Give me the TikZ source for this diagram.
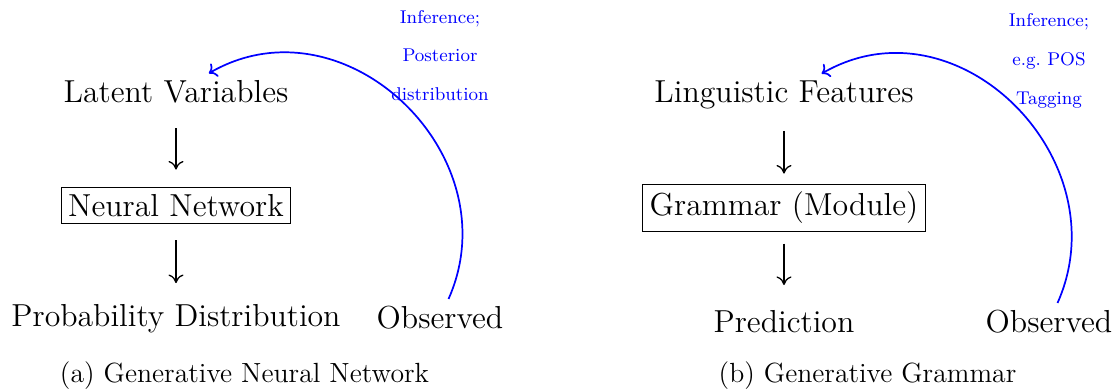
\documentclass[tikz,border=0pt]{standalone}
\usetikzlibrary{arrows.meta}
\begin{document}
\begin{tikzpicture}[x=0.4651pt,y=0.4651pt,
  main/.style={font=\fontsize{14.8}{17.5}\selectfont},
  captext/.style={font=\fontsize{12.9}{15.5}\selectfont, anchor=base},
  infer/.style={font=\fontsize{8.6}{18}\selectfont, text=blue, align=center},
  boxed/.style={main, draw, line width=0.5pt},
  down/.style={line width=0.6pt, -{To[length=4pt,width=7pt]}},
  feedback/.style={blue, thick, ->, out=66, in=30, looseness=1.22}]
\useasboundingbox (0,0) rectangle (1113,390);
% (a)
\node[main, anchor=base] (lv) at (176,287) {Latent Variables};
\node[boxed] (nn) at (176,184.5) {Neural Network};
\node[main, anchor=base] (pd) at (176,63) {Probability Distribution};
\node[main, anchor=base] (obsa) at (440,61) {Observed};
\node[infer] (infa) at (440,334.5) {Inference;\\Posterior\\distribution};
\node[captext] (capa) at (244.5,7) {(a) Generative Neural Network};
\draw[down, shorten <=7.8pt, shorten >=7.9pt] (lv.south) -- (nn.north);
\draw[down, shorten <=7.4pt, shorten >=6.6pt] (nn.south) -- (pd.north);
\draw[feedback] (obsa) to (lv);
% (b)
\node[main, anchor=base] (lf) at (784,287) {Linguistic Features};
\node[boxed] (gm) at (784,182) {Grammar (Module)};
\node[main, anchor=base] (pr) at (784,57) {Prediction};
\node[main, anchor=base] (obsb) at (1049,57) {Observed};
\node[infer] (infb) at (1049,329) {Inference;\\e.g.~POS\\Tagging};
\node[captext] (capb) at (867.5,7) {(b) Generative Grammar};
\draw[down, shorten <=6.4pt, shorten >=5pt] (lf.south) -- (gm.north);
\draw[down, shorten <=5.6pt, shorten >=8.5pt] (gm.south) -- (pr.north);
\draw[feedback] (obsb) to (lf);
\end{tikzpicture}
\end{document}
